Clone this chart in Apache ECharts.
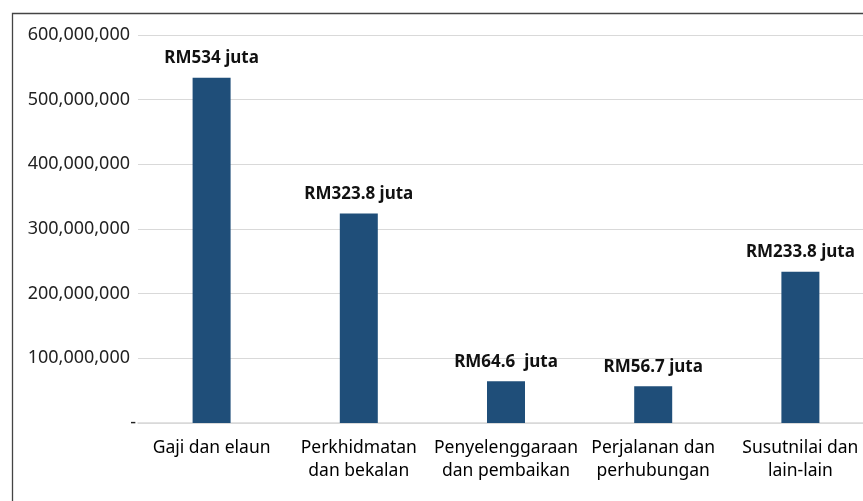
<!DOCTYPE html>
<html>
<head>
<meta charset="utf-8">
<script src="https://cdn.jsdelivr.net/npm/echarts@6/dist/echarts.min.js"></script>
<style>
	html, body { margin: 0; padding: 0; background: #fff; }
	#chart { width: 863px; height: 501px; }
</style>
</head>
<body>
<div id="chart"></div>
<script>
var categories = ['Gaji dan elaun', 'Perkhidmatan\ndan bekalan', 'Penyelenggaraan\ndan pembaikan', 'Perjalanan dan\nperhubungan', 'Susutnilai dan\nlain-lain'];
var values = [534000000, 323800000, 64600000, 56700000, 233800000];
var barLabels = ['RM534 juta', 'RM323.8 juta', 'RM64.6  juta', 'RM56.7 juta', 'RM233.8 juta'];

window.onload = function () {
	"use strict";
	var chart = echarts.init(document.getElementById('chart'));
	var font = '"Noto Sans", sans-serif';

	var option = {
		animation: false,
		backgroundColor: '#fff',
		grid: {
			left: 138,
			width: 736, // plot area runs a little past the right edge
			top: 35,
			bottom: 78,
			outerBoundsMode: 'none'
		},
		graphic: [{
			type: 'rect',
			left: 10,
			top: 11,
			shape: { width: 900, height: 600 },
			style: { fill: 'none', stroke: '#444', lineWidth: 1.3 },
			silent: true
		}],
		xAxis: {
			type: 'category',
			data: categories,
			axisTick: { show: false },
			axisLine: { lineStyle: { color: '#d9d9d9', width: 1.5 } },
			axisLabel: {
				color: '#000',
				fontFamily: font,
				fontSize: 17.5,
				lineHeight: 23,
				margin: 14,
				interval: 0
			}
		},
		yAxis: {
			type: 'value',
			min: 0,
			max: 600000000,
			interval: 100000000,
			axisLine: { show: false },
			axisTick: { show: false },
			splitLine: { lineStyle: { color: '#d9d9d9', width: 1.2 } },
			axisLabel: {
				margin: 2,
				formatter: function (v) {
					if (v === 0) { return '{d|-}'; }
					return '{n|' + v.toString().replace(/\B(?=(\d{3})+(?!\d))/g, ',') + '}';
				},
				rich: {
					n: { color: '#222', fontFamily: font, fontSize: 18, padding: [0, 6, 0, 0] },
					d: { color: '#222', fontFamily: font, fontSize: 18 }
				}
			}
		},
		series: [{
			type: 'bar',
			data: values,
			barWidth: 38,
			itemStyle: { color: '#1f4e79' },
			label: {
				show: true,
				position: 'top',
				distance: 11,
				color: '#111',
				fontFamily: font,
				fontSize: 17,
				fontWeight: 'bold',
				formatter: function (p) { return barLabels[p.dataIndex]; }
			}
		}]
	};

	chart.setOption(option);
};
</script>
</body>
</html>
